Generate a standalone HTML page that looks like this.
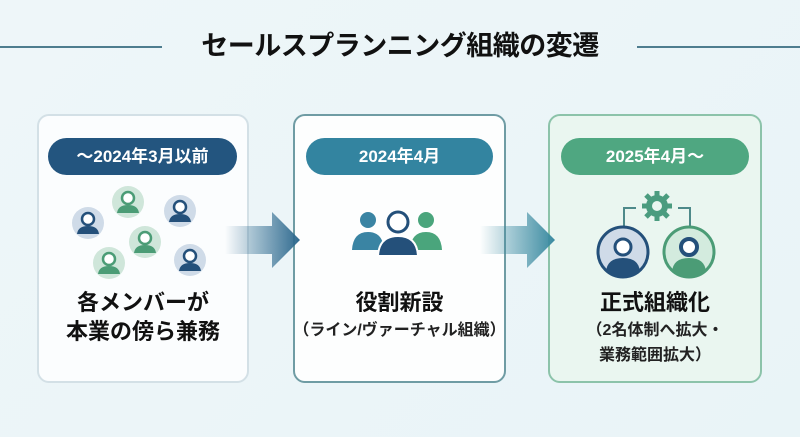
<!DOCTYPE html>
<html><head><meta charset="utf-8"><style>
body{margin:0;width:800px;height:437px;overflow:hidden;background:linear-gradient(135deg,#eef6f9,#e9f4f7);font-family:"Liberation Sans","Noto Sans CJK JP",sans-serif;position:relative}
.a{position:absolute}
.title{left:100px;width:600px;top:28px;text-align:center;font-size:27px;font-weight:bold;color:#111;letter-spacing:-0.5px;line-height:36px}
.line{height:2px;background:#4e7d8f;top:46px}
.card{border-radius:12px;box-sizing:border-box}
.pill{border-radius:19px;color:#fff;font-size:17px;font-weight:bold;text-align:center;line-height:37px}
.t1{font-size:22px;font-weight:bold;color:#111;text-align:center;line-height:29px}
.t2{font-size:16px;font-weight:bold;color:#222;text-align:center;line-height:25px}
</style></head><body>
<div class="a line" style="left:0;width:162px"></div>
<div class="a line" style="left:637px;width:163px"></div>
<div class="a title">セールスプランニング組織の変遷</div>

<div class="a card" style="left:37px;top:114px;width:212px;height:269px;background:#fbfdfe;border:2px solid #d3e0e6"></div>
<div class="a card" style="left:293px;top:114px;width:213px;height:269px;background:#fdfefe;border:2px solid #6f9ca4"></div>
<div class="a card" style="left:548px;top:114px;width:214px;height:269px;background:#eaf6f0;border:2px solid #8cc3aa"></div>

<div class="a pill" style="left:48px;top:138px;width:189px;background:#23557f">〜2024年3月以前</div>
<div class="a pill" style="left:306px;top:138px;width:187px;background:#3384a0">2024年4月</div>
<div class="a pill" style="left:561px;top:138px;width:188px;background:#4fa781">2025年4月〜</div>

<svg class="a" style="left:0;top:0" width="800" height="437">
<defs>
<linearGradient id="g1" x1="0" x2="1"><stop offset="0" stop-color="#2f6a8f" stop-opacity="0"/><stop offset="1" stop-color="#2f6a8f"/></linearGradient>
<linearGradient id="g2" x1="0" x2="1"><stop offset="0" stop-color="#3a8aa0" stop-opacity="0"/><stop offset="1" stop-color="#3a8aa0"/></linearGradient>
<g id="pb"><circle r="16" fill="#cfdbe8"/><circle cy="-4" r="6" fill="#fff" stroke="#24507a" stroke-width="2.5"/><path d="M-11,11 Q-10,3 0,3 Q10,3 11,11 Z" fill="#24507a"/></g>
<g id="pg"><circle r="16" fill="#cfe6da"/><circle cy="-4" r="6" fill="#fff" stroke="#4b9c76" stroke-width="2.5"/><path d="M-11,11 Q-10,3 0,3 Q10,3 11,11 Z" fill="#4b9c76"/></g>
</defs>
<path d="M225,226 H272 V212 L300,240 L272,268 V254 H225 Z" fill="url(#g1)"/>
<path d="M480,226 H527 V212 L555,240 L527,268 V254 H480 Z" fill="url(#g2)"/>
<use href="#pb" x="88" y="223"/>
<use href="#pg" x="128" y="202"/>
<use href="#pb" x="180" y="211"/>
<use href="#pg" x="145" y="242"/>
<use href="#pg" x="109" y="263"/>
<use href="#pb" x="190" y="260"/>
<circle cx="368" cy="220" r="8" fill="#3a84a3"/><path d="M352,250 Q353,232 368,232 Q383,232 384,250Z" fill="#3a84a3"/>
<circle cx="426" cy="220" r="8" fill="#4aa57c"/><path d="M410,250 Q411,232 426,232 Q441,232 442,250Z" fill="#4aa57c"/>
<circle cx="398" cy="222" r="10" fill="#fff" stroke="#24507a" stroke-width="3"/><path d="M378,256 Q379,236 398,236 Q417,236 418,256Z" fill="#24507a" stroke="#fff" stroke-width="2"/>
<path d="M624,232 V208 H636 M690,232 V208 H678" fill="none" stroke="#4e8a8a" stroke-width="2"/>
<circle cx="657" cy="206" r="11" fill="#4b9c7f"/>
<g stroke="#4b9c7f" stroke-width="5"><line x1="657" y1="191" x2="657" y2="221"/><line x1="642" y1="206" x2="672" y2="206"/><line x1="646" y1="195" x2="668" y2="217"/><line x1="668" y1="195" x2="646" y2="217"/></g>
<circle cx="657" cy="206" r="5" fill="#eaf6f0"/>
<circle cx="623" cy="252" r="25" fill="#cfdbe8" stroke="#24507a" stroke-width="3"/>
<circle cx="623" cy="247" r="8" fill="#fff" stroke="#24507a" stroke-width="3"/><path d="M606,272 Q607,258 623,258 Q639,258 640,272 Q632,277 623,277 Q614,277 606,272Z" fill="#24507a"/>
<circle cx="689" cy="252" r="25" fill="#d3ebde" stroke="#4b9c76" stroke-width="3"/>
<circle cx="689" cy="247" r="8" fill="#fff" stroke="#24507a" stroke-width="4"/><path d="M672,272 Q673,258 689,258 Q705,258 706,272 Q698,277 689,277 Q680,277 672,272Z" fill="#4b9c76"/>
</svg>

<div class="a t1" style="left:37px;width:212px;top:288px">各メンバーが<br>本業の傍ら兼務</div>
<div class="a t1" style="left:293px;width:213px;top:288px">役割新設</div>
<div class="a t2" style="left:293px;width:213px;top:318px">（ライン/ヴァーチャル組織）</div>
<div class="a t1" style="left:548px;width:214px;top:288px">正式組織化</div>
<div class="a t2" style="left:548px;width:214px;top:318px">（2名体制へ拡大・<br>業務範囲拡大）</div>
</body></html>
